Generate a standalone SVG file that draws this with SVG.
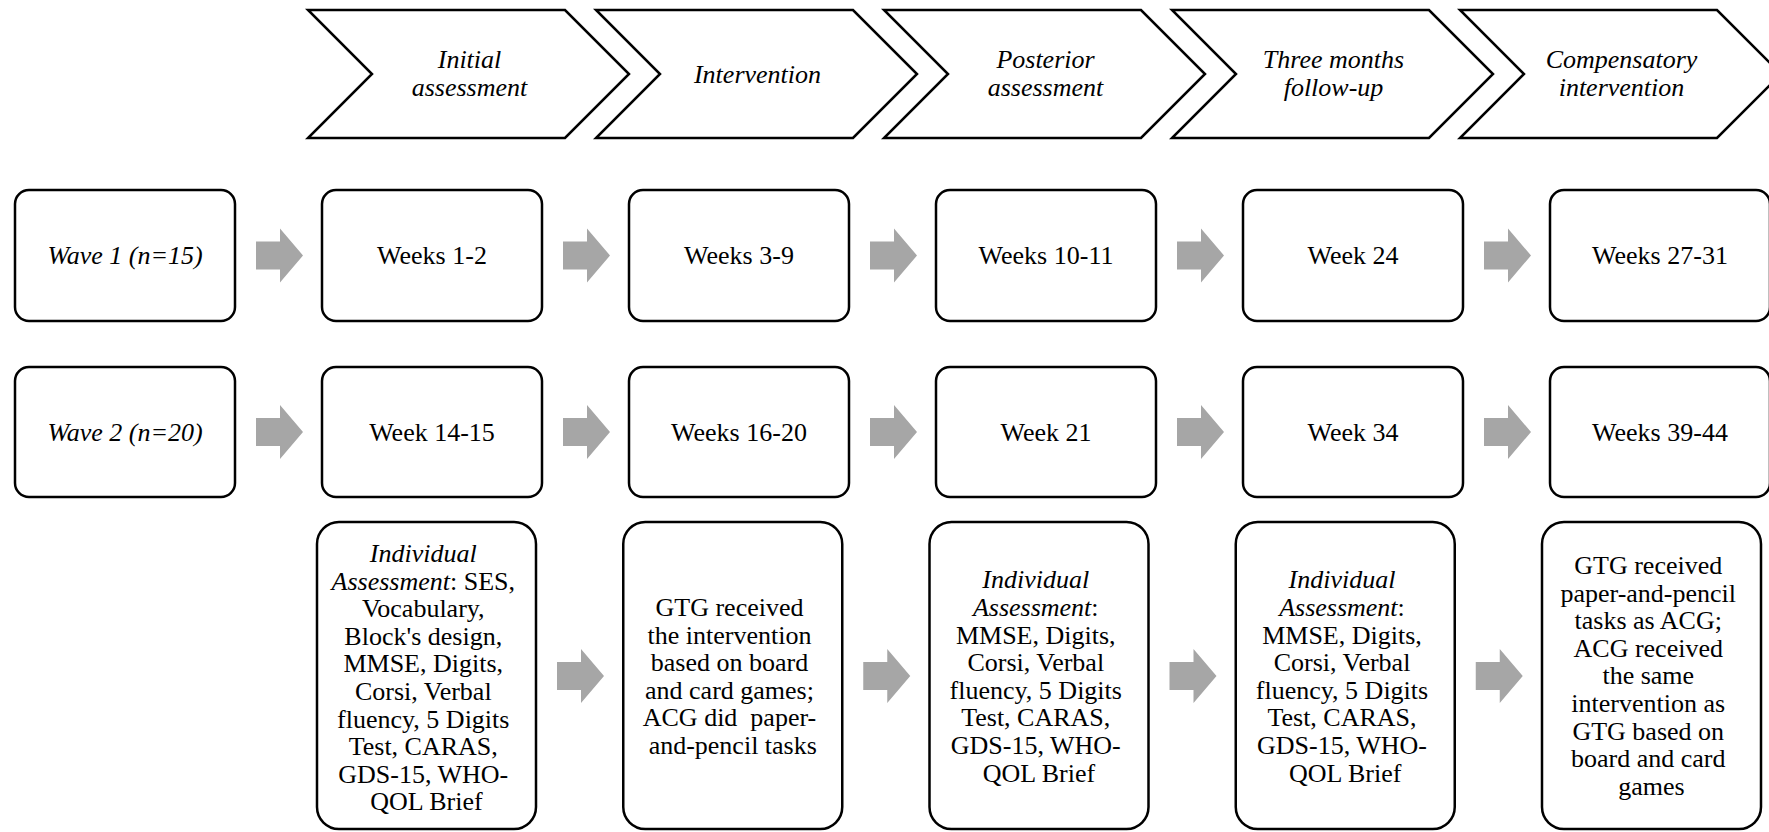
<svg xmlns="http://www.w3.org/2000/svg" width="1769" height="832" viewBox="0 0 1769 832" font-family="Liberation Serif, Tinos, Times New Roman, DejaVu Serif, serif">
  <style>
    text { font-family: "Liberation Serif", Tinos, "Times New Roman", "DejaVu Serif", serif; font-size: 26px; fill: #000; text-anchor: middle; }
    .it { font-style: italic; }
    .phase { fill: #fff; stroke: #000; stroke-width: 2.5; stroke-linejoin: miter; }
    .box { fill: #fff; stroke: #000; stroke-width: 2.5; }
    .arrow { fill: #a6a6a6; stroke: none; }
  </style>
  <defs>
    <path id="chev" d="M0,10 L257,10 L321,74 L257,138 L0,138 L64,74 Z"/>
    <path id="blockArrow" d="M0,-14 L24,-14 L24,-27 L47,0 L24,27 L24,14 L0,14 Z"/>
  </defs>
  <rect width="1769" height="832" fill="#fff"/>

  <!-- Phase banner -->
  <g id="phase-initial">
    <use href="#chev" class="phase" x="308"/>
    <text class="it" x="469.5" y="68">Initial</text>
    <text class="it" x="469.5" y="96">assessment</text>
  </g>
  <g id="phase-intervention">
    <use href="#chev" class="phase" x="596"/>
    <text class="it" x="757.5" y="83">Intervention</text>
  </g>
  <g id="phase-posterior">
    <use href="#chev" class="phase" x="884"/>
    <text class="it" x="1045.5" y="68">Posterior</text>
    <text class="it" x="1045.5" y="96">assessment</text>
  </g>
  <g id="phase-followup">
    <use href="#chev" class="phase" x="1172"/>
    <text class="it" x="1333.5" y="68">Three months</text>
    <text class="it" x="1333.5" y="96">follow-up</text>
  </g>
  <g id="phase-compensatory">
    <use href="#chev" class="phase" x="1460"/>
    <text class="it" x="1621.5" y="68">Compensatory</text>
    <text class="it" x="1621.5" y="96">intervention</text>
  </g>

  <!-- Wave 1 row -->
  <g id="wave1">
    <rect class="box" x="15" y="190" width="220" height="131" rx="14"/>
    <text class="it" x="125" y="264">Wave 1 (n=15)</text>
  </g>
  <g id="w1-initial">
    <rect class="box" x="322" y="190" width="220" height="131" rx="14"/>
    <text x="432" y="264">Weeks 1-2</text>
  </g>
  <g id="w1-intervention">
    <rect class="box" x="629" y="190" width="220" height="131" rx="14"/>
    <text x="739" y="264">Weeks 3-9</text>
  </g>
  <g id="w1-posterior">
    <rect class="box" x="936" y="190" width="220" height="131" rx="14"/>
    <text x="1046" y="264">Weeks 10-11</text>
  </g>
  <g id="w1-followup">
    <rect class="box" x="1243" y="190" width="220" height="131" rx="14"/>
    <text x="1353" y="264">Week 24</text>
  </g>
  <g id="w1-compensatory">
    <rect class="box" x="1550" y="190" width="220" height="131" rx="14"/>
    <text x="1660" y="264">Weeks 27-31</text>
  </g>

  <!-- Wave 2 row -->
  <g id="wave2">
    <rect class="box" x="15" y="367" width="220" height="130" rx="14"/>
    <text class="it" x="125" y="441">Wave 2 (n=20)</text>
  </g>
  <g id="w2-initial">
    <rect class="box" x="322" y="367" width="220" height="130" rx="14"/>
    <text x="432" y="441">Week 14-15</text>
  </g>
  <g id="w2-intervention">
    <rect class="box" x="629" y="367" width="220" height="130" rx="14"/>
    <text x="739" y="441">Weeks 16-20</text>
  </g>
  <g id="w2-posterior">
    <rect class="box" x="936" y="367" width="220" height="130" rx="14"/>
    <text x="1046" y="441">Week 21</text>
  </g>
  <g id="w2-followup">
    <rect class="box" x="1243" y="367" width="220" height="130" rx="14"/>
    <text x="1353" y="441">Week 34</text>
  </g>
  <g id="w2-compensatory">
    <rect class="box" x="1550" y="367" width="220" height="130" rx="14"/>
    <text x="1660" y="441">Weeks 39-44</text>
  </g>

  <!-- Content of each phase -->
  <g id="detail-initial">
    <rect class="box" x="317" y="522" width="219" height="307" rx="22"/>
    <text x="426.5" y="562">
      <tspan class="it" x="426.5">Individual</tspan>
      <tspan x="426.5" dy="27.6"><tspan class="it">Assessment</tspan>: SES,</tspan>
      <tspan x="426.5" dy="27.6">Vocabulary,</tspan>
      <tspan x="426.5" dy="27.6">Block's design,</tspan>
      <tspan x="426.5" dy="27.6">MMSE, Digits,</tspan>
      <tspan x="426.5" dy="27.6">Corsi, Verbal</tspan>
      <tspan x="426.5" dy="27.6">fluency, 5 Digits</tspan>
      <tspan x="426.5" dy="27.6">Test, CARAS,</tspan>
      <tspan x="426.5" dy="27.6">GDS-15, WHO-</tspan>
      <tspan x="426.5" dy="27.6">QOL Brief</tspan>
    </text>
  </g>
  <g id="detail-intervention">
    <rect class="box" x="623.25" y="522" width="219" height="307" rx="22"/>
    <text x="732.75" y="616">
      <tspan x="732.75">GTG received</tspan>
      <tspan x="732.75" dy="27.6">the intervention</tspan>
      <tspan x="732.75" dy="27.6">based on board</tspan>
      <tspan x="732.75" dy="27.6">and card games;</tspan>
      <tspan x="732.75" dy="27.6" xml:space="preserve">ACG did  paper-</tspan>
      <tspan x="732.75" dy="27.6">and-pencil tasks</tspan>
    </text>
  </g>
  <g id="detail-posterior">
    <rect class="box" x="929.5" y="522" width="219" height="307" rx="22"/>
    <text x="1039" y="588.4">
      <tspan class="it" x="1039">Individual</tspan>
      <tspan x="1039" dy="27.6"><tspan class="it">Assessment</tspan>:</tspan>
      <tspan x="1039" dy="27.6">MMSE, Digits,</tspan>
      <tspan x="1039" dy="27.6">Corsi, Verbal</tspan>
      <tspan x="1039" dy="27.6">fluency, 5 Digits</tspan>
      <tspan x="1039" dy="27.6">Test, CARAS,</tspan>
      <tspan x="1039" dy="27.6">GDS-15, WHO-</tspan>
      <tspan x="1039" dy="27.6">QOL Brief</tspan>
    </text>
  </g>
  <g id="detail-followup">
    <rect class="box" x="1235.75" y="522" width="219" height="307" rx="22"/>
    <text x="1345.25" y="588.4">
      <tspan class="it" x="1345.25">Individual</tspan>
      <tspan x="1345.25" dy="27.6"><tspan class="it">Assessment</tspan>:</tspan>
      <tspan x="1345.25" dy="27.6">MMSE, Digits,</tspan>
      <tspan x="1345.25" dy="27.6">Corsi, Verbal</tspan>
      <tspan x="1345.25" dy="27.6">fluency, 5 Digits</tspan>
      <tspan x="1345.25" dy="27.6">Test, CARAS,</tspan>
      <tspan x="1345.25" dy="27.6">GDS-15, WHO-</tspan>
      <tspan x="1345.25" dy="27.6">QOL Brief</tspan>
    </text>
  </g>
  <g id="detail-compensatory">
    <rect class="box" x="1542" y="522" width="219" height="307" rx="22"/>
    <text x="1651.5" y="574">
      <tspan x="1651.5">GTG received</tspan>
      <tspan x="1651.5" dy="27.6">paper-and-pencil</tspan>
      <tspan x="1651.5" dy="27.6">tasks as ACG;</tspan>
      <tspan x="1651.5" dy="27.6">ACG received</tspan>
      <tspan x="1651.5" dy="27.6">the same</tspan>
      <tspan x="1651.5" dy="27.6">intervention as</tspan>
      <tspan x="1651.5" dy="27.6">GTG based on</tspan>
      <tspan x="1651.5" dy="27.6">board and card</tspan>
      <tspan x="1651.5" dy="27.6">games</tspan>
    </text>
  </g>

  <!-- Block arrows between stages -->
  <g id="connectors" class="arrow">
    <use href="#blockArrow" x="256" y="255.5"/>
    <use href="#blockArrow" x="563" y="255.5"/>
    <use href="#blockArrow" x="870" y="255.5"/>
    <use href="#blockArrow" x="1177" y="255.5"/>
    <use href="#blockArrow" x="1484" y="255.5"/>

    <use href="#blockArrow" x="256" y="432"/>
    <use href="#blockArrow" x="563" y="432"/>
    <use href="#blockArrow" x="870" y="432"/>
    <use href="#blockArrow" x="1177" y="432"/>
    <use href="#blockArrow" x="1484" y="432"/>

    <use href="#blockArrow" x="557" y="676"/>
    <use href="#blockArrow" x="863.25" y="676"/>
    <use href="#blockArrow" x="1169.5" y="676"/>
    <use href="#blockArrow" x="1475.75" y="676"/>
  </g>
</svg>
